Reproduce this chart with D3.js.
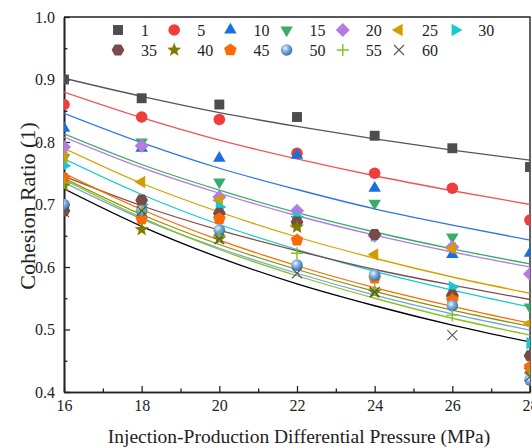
<!DOCTYPE html>
<html>
<head>
<meta charset="utf-8">
<script src="https://cdn.jsdelivr.net/npm/d3@7"></script>
<style>
    body { margin: 0; background: #fff; }
    svg { display: block; font-family: "Liberation Serif", "Times New Roman", serif; }
</style>
</head>
<body>
<div id="chart"></div>
<script>
// injection-production differential pressure (MPa)
var pressures = [16, 18, 20, 22, 24, 26, 28];
var seriesNames = ['1', '5', '10', '15', '20', '25', '30', '35', '40', '45', '50', '55', '60'];

var ratios = [
    [0.900, 0.870, 0.860, 0.840, 0.810, 0.790, 0.760],
    [0.860, 0.840, 0.836, 0.782, 0.750, 0.726, 0.675],
    [0.822, 0.790, 0.774, 0.779, 0.726, 0.620, 0.622],
    [0.775, 0.800, 0.736, 0.676, 0.702, 0.648, 0.536],
    [0.792, 0.794, 0.712, 0.690, 0.650, 0.632, 0.589],
    [0.776, 0.736, 0.707, 0.665, 0.620, 0.630, 0.510],
    [0.762, 0.700, 0.696, 0.680, 0.650, 0.568, 0.478],
    [0.690, 0.707, 0.686, 0.672, 0.652, 0.555, 0.458],
    [0.730, 0.660, 0.645, 0.664, 0.560, 0.550, 0.435],
    [0.742, 0.677, 0.677, 0.643, 0.582, 0.547, 0.440],
    [0.700, 0.690, 0.659, 0.603, 0.587, 0.538, 0.419],
    [0.735, 0.690, 0.650, 0.622, 0.565, 0.523, 0.430],
    [0.688, 0.690, 0.645, 0.590, 0.560, 0.491, 0.425]
];

// fitted curves, values at the same pressures
var fits = [
    [0.902, 0.873, 0.847, 0.825, 0.805, 0.787, 0.771],
    [0.880, 0.839, 0.803, 0.773, 0.746, 0.722, 0.700],
    [0.846, 0.799, 0.758, 0.724, 0.693, 0.667, 0.643],
    [0.813, 0.764, 0.723, 0.687, 0.656, 0.629, 0.605],
    [0.808, 0.759, 0.718, 0.682, 0.651, 0.624, 0.600],
    [0.790, 0.734, 0.688, 0.648, 0.614, 0.584, 0.558],
    [0.773, 0.716, 0.668, 0.628, 0.593, 0.563, 0.536],
    [0.745, 0.698, 0.659, 0.626, 0.596, 0.571, 0.548],
    [0.742, 0.684, 0.636, 0.596, 0.561, 0.531, 0.505],
    [0.750, 0.692, 0.643, 0.602, 0.567, 0.537, 0.510],
    [0.735, 0.677, 0.630, 0.590, 0.555, 0.525, 0.499],
    [0.740, 0.679, 0.628, 0.586, 0.550, 0.518, 0.491],
    [0.725, 0.665, 0.615, 0.573, 0.538, 0.507, 0.480]
];

var yTicks = [0.4, 0.5, 0.6, 0.7, 0.8, 0.9, 1.0];

// styling
var markerShapes = ['square', 'circle', 'up', 'down', 'diamond', 'left', 'right', 'hexagon', 'star', 'pentagon', 'ball', 'plus', 'cross'];
var markerColors = ['#4d4d4d', '#ef3c3c', '#1a6fdf', '#37ad6b', '#b27ce0', '#d39c00', '#16c8d0', '#7a4a48', '#7d7d00', '#fb6a06', '#6a9fd8', '#7ec21e', '#555555'];
var lineColors = ['#555555', '#f25353', '#2f74e3', '#3aaa6a', '#b07be0', '#d8a000', '#17cad2', '#7d4d4a', '#8f9300', '#ff6a00', '#6fa3e2', '#86c424', '#000000'];

var width = 532,
    height = 448,
    plotLeft = 64, plotRight = 530, plotTop = 17, plotBottom = 392;

var x = d3.scaleLinear().domain([16, 28]).range([plotLeft, plotRight]);
var y = d3.scaleLinear().domain([0.4, 1.0]).range([plotBottom, plotTop]);

var svg = d3.select('#chart').append('svg')
    .attr('width', width)
    .attr('height', height);

var defs = svg.append('defs');
defs.append('clipPath').attr('id', 'plot-clip')
    .append('rect')
    .attr('x', plotLeft).attr('y', plotTop)
    .attr('width', plotRight - plotLeft).attr('height', plotBottom - plotTop);

var grad = defs.append('radialGradient').attr('id', 'ball')
    .attr('cx', '38%').attr('cy', '35%').attr('r', '65%');
grad.append('stop').attr('offset', '0%').attr('stop-color', '#eef5ff');
grad.append('stop').attr('offset', '45%').attr('stop-color', '#7eaee4');
grad.append('stop').attr('offset', '100%').attr('stop-color', '#3c6fb0');

function polygon(n, r, rot) {
    var pts = d3.range(n).map(function (i) {
        var a = rot + i * 2 * Math.PI / n;
        return [r * Math.cos(a), r * Math.sin(a)];
    });
    return 'M' + pts.map(function (p) { return p[0].toFixed(2) + ',' + p[1].toFixed(2); }).join('L') + 'Z';
}

function starPath(r, inner) {
    var pts = d3.range(10).map(function (i) {
        var a = -Math.PI / 2 + i * Math.PI / 5,
            rr = i % 2 ? inner : r;
        return [rr * Math.cos(a), rr * Math.sin(a)];
    });
    return 'M' + pts.map(function (p) { return p[0].toFixed(2) + ',' + p[1].toFixed(2); }).join('L') + 'Z';
}

function drawMarker(sel, i, cx, cy) {
    var kind = markerShapes[i],
        col = markerColors[i],
        g = sel.append('g').attr('transform', 'translate(' + cx + ',' + cy + ')');
    if (kind === 'plus') {
        g.append('path').attr('d', 'M-6,0H6M0,-6V6')
            .attr('stroke', col).attr('stroke-width', 1.4).attr('fill', 'none');
        return;
    }
    if (kind === 'cross') {
        g.append('path').attr('d', 'M-5,-5L5,5M-5,5L5,-5')
            .attr('stroke', col).attr('stroke-width', 1.1).attr('fill', 'none');
        return;
    }
    if (kind === 'circle') {
        g.append('circle').attr('r', 5.8).attr('fill', col);
        return;
    }
    if (kind === 'ball') {
        g.append('circle').attr('r', 5.8).attr('fill', 'url(#ball)');
        return;
    }
    var d;
    if (kind === 'square') d = polygon(4, 7, Math.PI / 4);
    else if (kind === 'up') d = polygon(3, 7.2, -Math.PI / 2);
    else if (kind === 'down') d = polygon(3, 7.2, Math.PI / 2);
    else if (kind === 'left') d = polygon(3, 7.2, Math.PI);
    else if (kind === 'right') d = polygon(3, 7.2, 0);
    else if (kind === 'diamond') d = polygon(4, 7, -Math.PI / 2);
    else if (kind === 'hexagon') d = polygon(6, 6.4, 0);
    else if (kind === 'pentagon') d = polygon(5, 6.6, -Math.PI / 2);
    else if (kind === 'star') d = starPath(7.4, 3.1);
    g.append('path').attr('d', d).attr('fill', col);
}

// axes (ticks point inward)
var axisColor = '#222';

var xAxis = svg.append('g')
    .attr('transform', 'translate(0,' + plotBottom + ')')
    .call(d3.axisBottom(x).tickValues(pressures).tickFormat(d3.format('d'))
        .tickSizeInner(-6).tickSizeOuter(0).tickPadding(8));
var xMinor = svg.append('g')
    .attr('transform', 'translate(0,' + plotBottom + ')')
    .call(d3.axisBottom(x).tickValues([17, 19, 21, 23, 25, 27]).tickFormat('')
        .tickSizeInner(-3.5).tickSizeOuter(0));

var yAxis = svg.append('g')
    .attr('transform', 'translate(' + plotLeft + ',0)')
    .call(d3.axisLeft(y).tickValues(yTicks).tickFormat(d3.format('.1f'))
        .tickSizeInner(-6).tickSizeOuter(0).tickPadding(9));
var yMinor = svg.append('g')
    .attr('transform', 'translate(' + plotLeft + ',0)')
    .call(d3.axisLeft(y).tickValues([0.45, 0.55, 0.65, 0.75, 0.85, 0.95]).tickFormat('')
        .tickSizeInner(-3.5).tickSizeOuter(0));

[xAxis, xMinor, yAxis, yMinor].forEach(function (a) {
    a.select('.domain').attr('stroke', axisColor).attr('stroke-width', 1.6);
    a.selectAll('.tick line').attr('stroke', axisColor).attr('stroke-width', 1.3);
    a.selectAll('text').attr('fill', '#222').style('font-size', '16px')
        .style('font-family', '"Liberation Serif", "Times New Roman", serif');
});

// top and right frame
svg.append('path')
    .attr('d', 'M' + plotLeft + ',' + plotTop + 'H' + plotRight + 'V' + plotBottom)
    .attr('fill', 'none').attr('stroke', axisColor).attr('stroke-width', 1.4);

// fitted lines
var plot = svg.append('g').attr('clip-path', 'url(#plot-clip)');

var line = d3.line()
    .x(function (d, i) { return x(pressures[i]); })
    .y(function (d) { return y(d); })
    .curve(d3.curveMonotoneX);

plot.selectAll('.fit')
    .data(fits)
    .enter().append('path')
    .attr('class', 'fit')
    .attr('d', line)
    .attr('fill', 'none')
    .attr('stroke', function (d, i) { return lineColors[i]; })
    .attr('stroke-width', 1.3);

// measured points
ratios.forEach(function (row, i) {
    var g = plot.append('g').attr('class', 'series');
    row.forEach(function (v, j) {
        drawMarker(g, i, x(pressures[j]), y(v));
    });
});

// legend, two rows inside the top of the plot
var legend = svg.append('g').attr('class', 'legend');
seriesNames.forEach(function (name, i) {
    var col = i % 7,
        row = Math.floor(i / 7),
        lx = 118 + col * 56.2,
        ly = 30 + row * 20;
    drawMarker(legend, i, lx, ly);
    legend.append('text')
        .attr('x', lx + 23)
        .attr('y', ly)
        .attr('dy', '0.35em')
        .attr('fill', '#222')
        .style('font-size', '16px')
        .text(name);
});

// axis titles
svg.append('text')
    .attr('x', (plotLeft + plotRight) / 2 + 2)
    .attr('y', 443)
    .attr('text-anchor', 'middle')
    .attr('fill', '#222')
    .style('font-size', '19.5px')
    .text('Injection-Production Differential Pressure (MPa)');

svg.append('text')
    .attr('transform', 'translate(35,' + 206 + ') rotate(-90)')
    .attr('text-anchor', 'middle')
    .attr('fill', '#222')
    .style('font-size', '22px')
    .text('Cohesion Ratio (1)');
</script>
</body>
</html>
